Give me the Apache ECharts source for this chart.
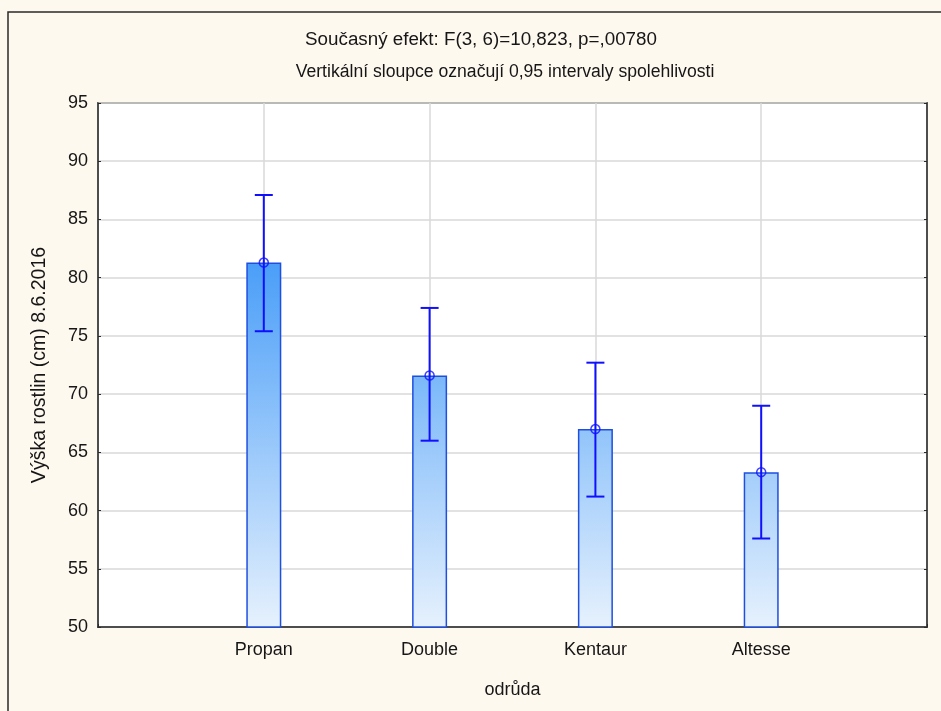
<!DOCTYPE html>
<html>
<head>
<meta charset="utf-8">
<script src="https://cdn.jsdelivr.net/npm/echarts@6/dist/echarts.min.js"></script>
<style>
  html, body { margin: 0; padding: 0; background: #fef9ef; }
  #chart { width: 941px; height: 711px; }
</style>
</head>
<body>
<div id="chart"></div>
<script>
// Plant height by variety: means with 0.95 confidence intervals
const categories = ['', 'Propan', 'Double', 'Kentaur', 'Altesse', ''];
const means = [null, 81.3, 71.6, 67.0, 63.3, null];
const ciLow = [null, 75.4, 66.0, 61.2, 57.6, null];
const ciHigh = [null, 87.1, 77.4, 72.7, 69.0, null];
const yTicks = { min: 50, max: 95, step: 5 };

const titleLine1 = 'Současný efekt: F(3, 6)=10,823, p=,00780';
const titleLine2 = 'Vertikální sloupce označují 0,95 intervaly spolehlivosti';
const yAxisTitle = 'Výška rostlin (cm) 8.6.2016';
const xAxisTitle = 'odrůda';

const FONT = 'Liberation Sans, Arial, sans-serif';
const TEXT = '#161616';

const chart = echarts.init(document.getElementById('chart'), null, { renderer: 'canvas' });

const errData = [];
for (let i = 0; i < categories.length; i++) {
  if (means[i] != null) errData.push([i, ciLow[i], ciHigh[i]]);
}
const meanPts = [];
for (let i = 0; i < categories.length; i++) {
  if (means[i] != null) meanPts.push([i, means[i]]);
}

const GRID = { left: 98, top: 103, right: 14, bottom: 84 };

// bar fill runs from saturated blue at the top to pale blue at the base,
// in plot coordinates so lower bars start lighter
const barFill = new echarts.graphic.LinearGradient(0, 263, 0, 627, [
  { offset: 0, color: '#4a9ef8' },
  { offset: 1, color: '#e6f1fd' }
], true);

chart.setOption({
  backgroundColor: '#fef9ef',
  animation: false,
  graphic: [
    {
      type: 'rect', silent: true, z: -1,
      shape: { x: 8, y: 12, width: 960, height: 720 },
      style: { fill: 'none', stroke: '#2a2a2a', lineWidth: 1.5 }
    },
    {
      type: 'text', x: 481, y: 40,
      style: { text: titleLine1, font: '18.8px ' + FONT, fill: TEXT, align: 'center', verticalAlign: 'middle' }
    },
    {
      type: 'text', x: 505, y: 72,
      style: { text: titleLine2, font: '17.6px ' + FONT, fill: TEXT, align: 'center', verticalAlign: 'middle' }
    }
  ],
  grid: Object.assign({ show: true, backgroundColor: '#ffffff', borderColor: '#2a2a2a', borderWidth: 1.5, containLabel: false }, GRID),
  xAxis: {
    type: 'category',
    data: categories,
    boundaryGap: false,
    name: xAxisTitle,
    nameLocation: 'middle',
    nameGap: 54,
    nameTextStyle: { fontFamily: FONT, fontSize: 18, color: TEXT },
    axisLine: { show: true, lineStyle: { color: '#2a2a2a', width: 1.5 } },
    axisTick: { show: true, inside: true, length: 3, alignWithLabel: true, interval: 0, lineStyle: { color: '#2a2a2a' } },
    axisLabel: { interval: 0, margin: 14, fontFamily: FONT, fontSize: 18, color: TEXT },
    splitLine: { show: true, interval: 0, lineStyle: { color: '#d9d9d9', width: 1.5 } }
  },
  yAxis: [
    {
      type: 'value',
      min: yTicks.min, max: yTicks.max, interval: yTicks.step,
      name: yAxisTitle,
      nameLocation: 'middle',
      nameRotate: 90,
      nameGap: 48,
      nameTextStyle: { fontFamily: FONT, fontSize: 19.5, color: TEXT },
      axisLine: { show: true, lineStyle: { color: '#2a2a2a', width: 1.5 } },
      axisTick: { show: true, inside: true, length: 3, lineStyle: { color: '#2a2a2a' } },
      axisLabel: { margin: 10, fontFamily: FONT, fontSize: 18, color: TEXT },
      splitLine: { show: true, lineStyle: { color: '#d9d9d9', width: 1.5 } }
    },
    {
      type: 'value', position: 'right',
      min: yTicks.min, max: yTicks.max, interval: yTicks.step,
      axisLine: { show: true, lineStyle: { color: '#2a2a2a', width: 1.5 } },
      axisTick: { show: true, inside: true, length: 3, lineStyle: { color: '#2a2a2a' } },
      axisLabel: { show: false },
      splitLine: { show: false }
    }
  ],
  series: [
    {
      type: 'bar',
      data: means,
      barWidth: 35,
      itemStyle: { color: barFill, borderColor: '#1f4fe0', borderWidth: 1.5 },
      z: 2
    },
    {
      type: 'custom',
      data: errData,
      z: 3,
      renderItem: function (params, api) {
        const x = api.value(0);
        const lo = api.coord([x, api.value(1)]);
        const hi = api.coord([x, api.value(2)]);
        const half = 9;
        const st = { stroke: '#1010ff', lineWidth: 2 };
        return {
          type: 'group',
          children: [
            { type: 'line', shape: { x1: lo[0], y1: lo[1], x2: hi[0], y2: hi[1] }, style: st },
            { type: 'line', shape: { x1: hi[0] - half, y1: hi[1], x2: hi[0] + half, y2: hi[1] }, style: st },
            { type: 'line', shape: { x1: lo[0] - half, y1: lo[1], x2: lo[0] + half, y2: lo[1] }, style: st }
          ]
        };
      }
    },
    {
      type: 'scatter',
      data: meanPts,
      symbol: 'circle',
      symbolSize: 9,
      itemStyle: { color: 'rgba(255,255,255,0)', borderColor: '#1010ff', borderWidth: 1.5 },
      z: 4
    }
  ]
});
</script>
</body>
</html>
